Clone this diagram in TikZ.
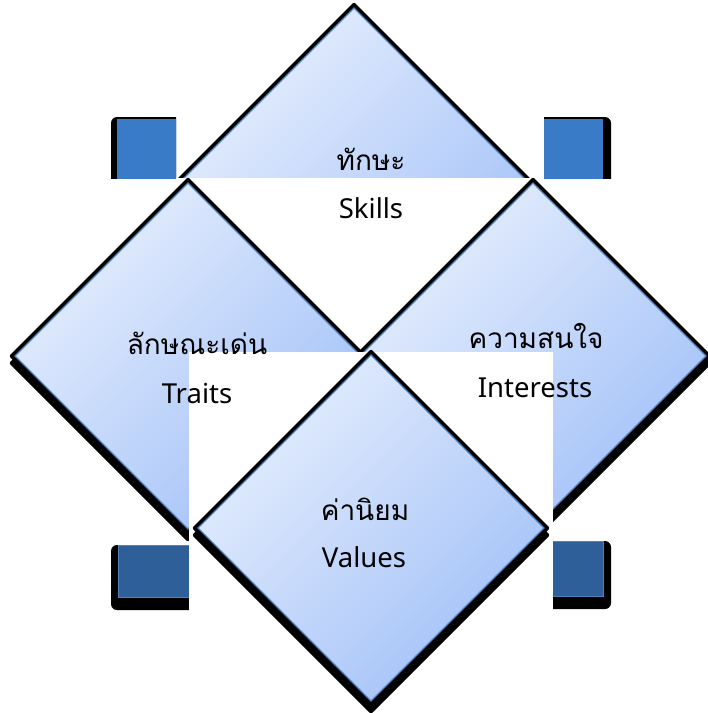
\documentclass[tikz,border=0pt]{standalone}
\usepackage{fontspec}
\setmainfont{Noto Sans}
\newfontfamily\thaifont[Script=Thai]{Loma}
\usetikzlibrary{shapes.geometric}
\definecolor{dtop}{HTML}{E6EEFD}
\definecolor{dbot}{HTML}{A2C1F8}
\definecolor{dline}{HTML}{4F81BD}
\definecolor{sqtop}{HTML}{3A7BC8}
\definecolor{sqbot}{HTML}{2E5F99}
\tikzset{
  dia/.style={diamond, aspect=1, inner sep=0pt, outer sep=0pt,
    minimum width=346pt, minimum height=346pt},
  diaout/.style={dia, fill=black, minimum width=358pt, minimum height=358pt, rounded corners=2pt},
  diafill/.style={dia, draw=dline, line width=1.2pt, shading=axis,
    top color=dtop, bottom color=dbot, shading angle=45},
  entxt/.style={inner sep=0pt, anchor=base, font=\fontsize{27.5}{33}\selectfont},
  thtxt/.style={inner sep=0pt, anchor=base, font=\thaifont\fontsize{28}{33}\selectfont},
  wpatch/.style={fill=white},
}
\begin{document}
\begin{tikzpicture}[x=1pt,y=-1pt]
\useasboundingbox[fill=white] (0,0) rectangle (708,713);
% small squares
\begin{scope}
  \clip (100,100) rectangle (176,178);
  \fill[black,rounded corners=6pt] (111,117) rectangle (260,260);
  \fill[sqtop] (117,119) rectangle (260,260);
\end{scope}
\begin{scope}
  \clip (544,100) rectangle (620,178);
  \fill[black,rounded corners=6pt] (450,117) rectangle (611,260);
  \fill[sqtop] (450,119) rectangle (603,260);
\end{scope}
\begin{scope}
  \clip (100,540) rectangle (189,620);
  \fill[black,rounded corners=6pt] (111,545) rectangle (260,610);
  \filldraw[fill=sqbot,draw=dline,line width=1pt] (118,545) rectangle (260,597);
\end{scope}
\begin{scope}
  \clip (553,535) rectangle (620,620);
  \fill[black,rounded corners=6pt] (450,541) rectangle (611,609);
  \filldraw[fill=sqbot,draw=dline,line width=1pt] (450,541) rectangle (603,596);
\end{scope}
% Skills diamond
\node[diaout] (sks) at (354,188) {};
\node[diaout] (sko) at (354,181) {};
\node[diafill] (sk) at (354,181) {};
% white patch 1
\fill[wpatch] (176,178) rectangle (544,352);
% Traits diamond
\node[diaout] (trs) at (188,363) {};
\node[diaout] (tro) at (188,356) {};
\node[diafill] (tr) at (188,356) {};
% Interests diamond
\node[diaout] (ins) at (533,363) {};
\node[diaout] (ino) at (533,356) {};
\node[diafill] (in) at (533,356) {};
% white patch 2
\fill[wpatch] (189,352) rectangle (553,713);
% Values diamond
\node[diaout] (vas) at (371,535) {};
\node[diaout] (vao) at (371,528) {};
\node[diafill] (va) at (371,528) {};
% texts
\node[thtxt] (skth) at (371,170) {ทักษะ};
\node[entxt] (sken) at (371,218) {Skills};
\node[thtxt] (trth) at (197,354) {ลักษณะเด่น};
\node[entxt] (tren) at (197,403) {Traits};
\node[thtxt] (inth) at (536,348) {ความสนใจ};
\node[entxt] (inen) at (535,397) {Interests};
\node[thtxt] (vath) at (365,520) {ค่านิยม};
\node[entxt] (vaen) at (364,567) {Values};
\end{tikzpicture}
\end{document}
